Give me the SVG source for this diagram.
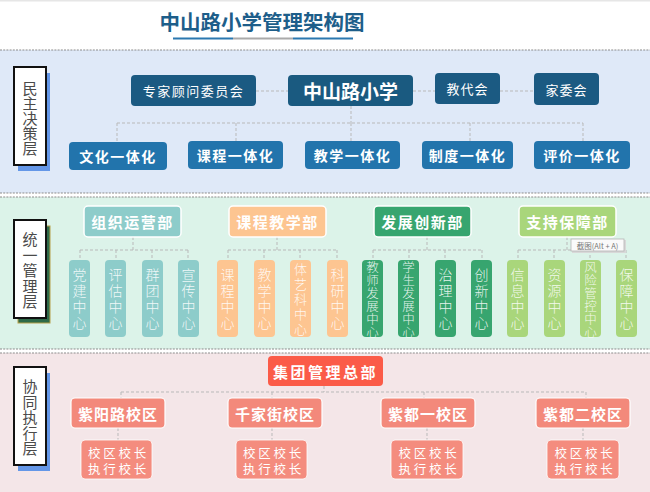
<svg xmlns="http://www.w3.org/2000/svg" width="650" height="492" viewBox="0 0 650 492">
<style>
.cjk{font-family:"Noto Sans CJK SC","Noto Sans",sans-serif}
.lbl{font-family:"Noto Sans CJK SC",sans-serif;font-size:15px;fill:#4a4a4a;font-weight:400}
.c{stroke:#b9b9b9;stroke-width:1;stroke-dasharray:3 2;fill:none}
.sep{stroke:#8c8c8c;stroke-width:1.2;stroke-dasharray:2 1.2}
.wt{fill:#fff;text-anchor:middle;dominant-baseline:central;font-family:"Noto Sans CJK SC","Noto Sans",sans-serif}
.b{font-weight:700}
.vt{fill:#fff;fill-opacity:0.88;font-weight:300;text-anchor:middle;dominant-baseline:central;font-family:"Noto Sans CJK SC",sans-serif}
</style>
<rect x="0" y="0" width="650" height="492" fill="#fff"/>
<rect x="0" y="0" width="650" height="1.5" fill="#e6e6e6"/>
<!-- bands -->
<rect x="0" y="50" width="650" height="143" fill="#dfe9f8"/>
<rect x="0" y="197" width="650" height="152" fill="#dcf3e9"/>
<rect x="0" y="353" width="650" height="139" fill="#f4e6e8"/>
<line class="sep" x1="0" y1="50" x2="650" y2="50"/>
<line class="sep" x1="0" y1="193" x2="650" y2="193"/>
<line class="sep" x1="0" y1="197" x2="650" y2="197"/>
<line class="sep" x1="0" y1="349" x2="650" y2="349"/>
<line class="sep" x1="0" y1="353" x2="650" y2="353"/>

<!-- title -->
<g id="title">
<text x="262" y="20.5" class="cjk b" font-size="20.5" fill="#1d5e8a" text-anchor="middle" dominant-baseline="central">中山路小学管理架构图</text>
<rect x="173" y="37.5" width="60" height="2" fill="#2b78b0"/>
<rect x="233" y="37.5" width="60" height="2" fill="#aaaaaa"/>
<rect x="293" y="37.5" width="60" height="2" fill="#2b78b0"/>
</g>

<!-- layer labels -->
<g id="layer1">
<rect x="18" y="73" width="32" height="98" fill="#6497e8"/>
<rect x="14" y="67" width="32" height="98" fill="#fff" stroke="#111" stroke-width="2"/>
<text class="lbl" text-anchor="middle" dominant-baseline="central"><tspan x="30" y="87">民</tspan><tspan x="30" y="102">主</tspan><tspan x="30" y="117">决</tspan><tspan x="30" y="132">策</tspan><tspan x="30" y="147">层</tspan></text>
</g>
<g id="layer2">
<rect x="18" y="226" width="32" height="97" fill="#2e6a48" stroke="#b5a04a" stroke-width="1"/>
<rect x="14" y="220" width="32" height="98" fill="#fff" stroke="#111" stroke-width="2"/>
<text class="lbl" text-anchor="middle" dominant-baseline="central"><tspan x="30" y="238">统</tspan><tspan x="30" y="253.5">一</tspan><tspan x="30" y="269">管</tspan><tspan x="30" y="284.5">理</tspan><tspan x="30" y="300">层</tspan></text>
</g>
<g id="layer3">
<rect x="18" y="373" width="32" height="98" fill="#6497e8"/>
<rect x="14" y="367" width="32" height="98" fill="#fff" stroke="#111" stroke-width="2"/>
<text class="lbl" text-anchor="middle" dominant-baseline="central"><tspan x="30" y="385">协</tspan><tspan x="30" y="400.5">同</tspan><tspan x="30" y="416">执</tspan><tspan x="30" y="431.5">行</tspan><tspan x="30" y="447">层</tspan></text>
</g>

<!-- connectors -->
<g id="connectors">
<path class="c" d="M256 91H288M413 91H435M500 91H534"/>
<path class="c" d="M351 106V123M117 123H583M117 123V141M236 123V141M351 123V141M470 123V141M583 123V141"/>
<path class="c" d="M133 237V250M80 250H188M80 250V260M116 250V260M152 250V260M188 250V260"/>
<path class="c" d="M277 237V250M228 250H337M228 250V260M264 250V260M300 250V260M337 250V260"/>
<path class="c" d="M427 237V250M373 250H482M373 250V260M409 250V260M445 250V260M482 250V260"/>
<path class="c" d="M567 237V250M518 250H626M518 250V260M554 250V260M590 250V260M626 250V260"/>
<path class="c" d="M324 386V392M121 392H586M121 392V398M272 392V398M424 392V398M586 392V398"/>
<path class="c" d="M118 428V440M272 428V440M427 428V440M583 428V440"/>
</g>

<!-- top layer -->
<g id="n-zhuanjia"><rect x="131" y="75" width="125" height="31" rx="4" fill="#1b5a82"/><text class="wt" x="193.5" y="90.5" font-size="13" letter-spacing="1.5">专家顾问委员会</text></g>
<g id="n-root"><rect x="288" y="75" width="125" height="31" rx="4" fill="#1a5a80"/><text class="wt b" x="350.5" y="90.5" font-size="19">中山路小学</text></g>
<g id="n-jiaodai"><rect x="435" y="73" width="65" height="31" rx="4" fill="#1b5a82"/><text class="wt" x="467.5" y="88.5" font-size="13" letter-spacing="1">教代会</text></g>
<g id="n-jiawei"><rect x="534" y="73" width="65" height="32" rx="4" fill="#1b5a82"/><text class="wt" x="566.5" y="89" font-size="13" letter-spacing="1">家委会</text></g>

<g id="n-wenhua"><rect x="69" y="142" width="98" height="28" rx="4" fill="#2274ac"/><text class="wt b" x="118" y="156" font-size="14" letter-spacing="1.5">文化一体化</text></g>
<g id="n-kecheng"><rect x="188" y="141" width="95" height="28" rx="4" fill="#2274ac"/><text class="wt b" x="235.5" y="155" font-size="14" letter-spacing="1.5">课程一体化</text></g>
<g id="n-jiaoxue"><rect x="305" y="141" width="95" height="28" rx="4" fill="#2274ac"/><text class="wt b" x="352.5" y="155" font-size="14" letter-spacing="1.5">教学一体化</text></g>
<g id="n-zhidu"><rect x="422" y="141" width="91" height="28" rx="4" fill="#2274ac"/><text class="wt b" x="467.5" y="155" font-size="14" letter-spacing="1.5">制度一体化</text></g>
<g id="n-pingjia"><rect x="534" y="141" width="96" height="28" rx="4" fill="#2274ac"/><text class="wt b" x="582" y="155" font-size="14" letter-spacing="1.5">评价一体化</text></g>

<!-- middle layer departments -->
<g id="d-zuzhi"><rect x="84" y="206" width="97" height="31" rx="4" fill="#8dccca" stroke="#fff" stroke-width="1.5"/><text class="wt b" x="132.5" y="221.5" font-size="15" letter-spacing="1.5">组织运营部</text></g>
<g id="d-kecheng"><rect x="229" y="206" width="97" height="31" rx="4" fill="#fdc591" stroke="#fff" stroke-width="1.5"/><text class="wt b" x="277.5" y="221.5" font-size="15" letter-spacing="1.5">课程教学部</text></g>
<g id="d-fazhan"><rect x="374" y="206" width="97" height="31" rx="4" fill="#37a56f" stroke="#fff" stroke-width="1.5"/><text class="wt b" x="422.5" y="221.5" font-size="15" letter-spacing="1.5">发展创新部</text></g>
<g id="d-zhichi"><rect x="519" y="206" width="97" height="31" rx="4" fill="#a9d67b" stroke="#fff" stroke-width="1.5"/><text class="wt b" x="567.5" y="221.5" font-size="15" letter-spacing="1.5">支持保障部</text></g>

<!-- centers -->
<g id="c-dangjian"><rect x="69" y="260" width="21" height="77" rx="4" fill="#8dccca"/><text class="vt" font-size="14"><tspan x="79.5" y="274">党</tspan><tspan x="79.5" y="290">建</tspan><tspan x="79.5" y="306">中</tspan><tspan x="79.5" y="322">心</tspan></text></g>
<g id="c-pinggu"><rect x="105" y="260" width="21" height="77" rx="4" fill="#8dccca"/><text class="vt" font-size="14"><tspan x="115.5" y="274">评</tspan><tspan x="115.5" y="290">估</tspan><tspan x="115.5" y="306">中</tspan><tspan x="115.5" y="322">心</tspan></text></g>
<g id="c-quntuan"><rect x="142" y="260" width="21" height="77" rx="4" fill="#8dccca"/><text class="vt" font-size="14"><tspan x="152.5" y="274">群</tspan><tspan x="152.5" y="290">团</tspan><tspan x="152.5" y="306">中</tspan><tspan x="152.5" y="322">心</tspan></text></g>
<g id="c-xuanchuan"><rect x="178" y="260" width="21" height="77" rx="4" fill="#8dccca"/><text class="vt" font-size="14"><tspan x="188.5" y="274">宣</tspan><tspan x="188.5" y="290">传</tspan><tspan x="188.5" y="306">中</tspan><tspan x="188.5" y="322">心</tspan></text></g>

<g id="c-kecheng"><rect x="217" y="260" width="21" height="77" rx="4" fill="#fdc591"/><text class="vt" font-size="14"><tspan x="227.5" y="274">课</tspan><tspan x="227.5" y="290">程</tspan><tspan x="227.5" y="306">中</tspan><tspan x="227.5" y="322">心</tspan></text></g>
<g id="c-jiaoxue"><rect x="254" y="260" width="21" height="77" rx="4" fill="#fdc591"/><text class="vt" font-size="14"><tspan x="264.5" y="274">教</tspan><tspan x="264.5" y="290">学</tspan><tspan x="264.5" y="306">中</tspan><tspan x="264.5" y="322">心</tspan></text></g>
<g id="c-tiyike"><rect x="290" y="260" width="21" height="77" rx="4" fill="#fdc591"/><text class="vt" font-size="13"><tspan x="300.5" y="268">体</tspan><tspan x="300.5" y="283">艺</tspan><tspan x="300.5" y="298">科</tspan><tspan x="300.5" y="313">中</tspan><tspan x="300.5" y="328">心</tspan></text></g>
<g id="c-keyan"><rect x="327" y="260" width="21" height="77" rx="4" fill="#fdc591"/><text class="vt" font-size="14"><tspan x="337.5" y="274">科</tspan><tspan x="337.5" y="290">研</tspan><tspan x="337.5" y="306">中</tspan><tspan x="337.5" y="322">心</tspan></text></g>

<g id="c-jiaoshi"><rect x="362" y="260" width="21" height="77" rx="4" fill="#37a56f"/><text class="vt" font-size="12.5"><tspan x="372.5" y="266">教</tspan><tspan x="372.5" y="279">师</tspan><tspan x="372.5" y="292">发</tspan><tspan x="372.5" y="305">展</tspan><tspan x="372.5" y="318">中</tspan><tspan x="372.5" y="331">心</tspan></text></g>
<g id="c-xuesheng"><rect x="398" y="260" width="21" height="77" rx="4" fill="#37a56f"/><text class="vt" font-size="12.5"><tspan x="408.5" y="266">学</tspan><tspan x="408.5" y="279">生</tspan><tspan x="408.5" y="292">发</tspan><tspan x="408.5" y="305">展</tspan><tspan x="408.5" y="318">中</tspan><tspan x="408.5" y="331">心</tspan></text></g>
<g id="c-zhili"><rect x="435" y="260" width="21" height="77" rx="4" fill="#37a56f"/><text class="vt" font-size="14"><tspan x="445.5" y="274">治</tspan><tspan x="445.5" y="290">理</tspan><tspan x="445.5" y="306">中</tspan><tspan x="445.5" y="322">心</tspan></text></g>
<g id="c-chuangxin"><rect x="471" y="260" width="21" height="77" rx="4" fill="#37a56f"/><text class="vt" font-size="14"><tspan x="481.5" y="274">创</tspan><tspan x="481.5" y="290">新</tspan><tspan x="481.5" y="306">中</tspan><tspan x="481.5" y="322">心</tspan></text></g>

<g id="c-xinxi"><rect x="507" y="260" width="21" height="77" rx="4" fill="#a9d67b"/><text class="vt" font-size="14"><tspan x="517.5" y="274">信</tspan><tspan x="517.5" y="290">息</tspan><tspan x="517.5" y="306">中</tspan><tspan x="517.5" y="322">心</tspan></text></g>
<g id="c-ziyuan"><rect x="544" y="260" width="21" height="77" rx="4" fill="#a9d67b"/><text class="vt" font-size="14"><tspan x="554.5" y="274">资</tspan><tspan x="554.5" y="290">源</tspan><tspan x="554.5" y="306">中</tspan><tspan x="554.5" y="322">心</tspan></text></g>
<g id="c-fengxian"><rect x="580" y="260" width="21" height="77" rx="4" fill="#a9d67b"/><text class="vt" font-size="12.5"><tspan x="590.5" y="266">风</tspan><tspan x="590.5" y="279">险</tspan><tspan x="590.5" y="292">管</tspan><tspan x="590.5" y="305">控</tspan><tspan x="590.5" y="318">中</tspan><tspan x="590.5" y="331">心</tspan></text></g>
<g id="c-baozhang"><rect x="616" y="260" width="21" height="77" rx="4" fill="#a9d67b"/><text class="vt" font-size="14"><tspan x="626.5" y="274">保</tspan><tspan x="626.5" y="290">障</tspan><tspan x="626.5" y="306">中</tspan><tspan x="626.5" y="322">心</tspan></text></g>

<!-- tooltip artifact -->
<g id="tooltip">
<rect x="572" y="240" width="54" height="13" fill="#d8d8d8"/>
<rect x="571" y="239" width="53" height="12" fill="#fafafa" stroke="#b5b5b5" stroke-width="0.8"/>
<text x="597.5" y="245.5" font-family="'Noto Sans CJK SC',sans-serif" font-size="7.5" fill="#777" text-anchor="middle" dominant-baseline="central">截图(Alt + A)</text>
</g>

<!-- bottom layer -->
<g id="b-jituan"><rect x="268" y="356" width="115" height="30" rx="4" fill="#fb5b48"/><text class="wt b" x="325.5" y="371" font-size="15" letter-spacing="2.5">集团管理总部</text></g>

<g id="b-ziyang"><rect x="71" y="398" width="94" height="30" rx="4" fill="#f3897b" stroke="#fff" stroke-width="1.2"/><text class="wt b" x="118" y="413" font-size="15" letter-spacing="1">紫阳路校区</text></g>
<g id="b-qianjia"><rect x="228" y="398" width="94" height="30" rx="4" fill="#f3897b" stroke="#fff" stroke-width="1.2"/><text class="wt b" x="275" y="413" font-size="15" letter-spacing="1">千家街校区</text></g>
<g id="b-zidu1"><rect x="381" y="398" width="94" height="30" rx="4" fill="#f3897b" stroke="#fff" stroke-width="1.2"/><text class="wt b" x="428" y="413" font-size="15" letter-spacing="1">紫都一校区</text></g>
<g id="b-zidu2"><rect x="536" y="398" width="94" height="30" rx="4" fill="#f3897b" stroke="#fff" stroke-width="1.2"/><text class="wt b" x="583" y="413" font-size="15" letter-spacing="1">紫都二校区</text></g>

<g id="s-ziyang"><rect x="81" y="440" width="71" height="39" rx="4" fill="#f48c7e" stroke="#fff" stroke-width="0.8"/><text class="wt" font-size="12.5" letter-spacing="2.8"><tspan x="118.5" y="452">校区校长</tspan><tspan x="118.5" y="468">执行校长</tspan></text></g>
<g id="s-qianjia"><rect x="236" y="440" width="71" height="39" rx="4" fill="#f48c7e" stroke="#fff" stroke-width="0.8"/><text class="wt" font-size="12.5" letter-spacing="2.8"><tspan x="273.5" y="452">校区校长</tspan><tspan x="273.5" y="468">执行校长</tspan></text></g>
<g id="s-zidu1"><rect x="391" y="440" width="72" height="39" rx="4" fill="#f48c7e" stroke="#fff" stroke-width="0.8"/><text class="wt" font-size="12.5" letter-spacing="2.8"><tspan x="429" y="452">校区校长</tspan><tspan x="429" y="468">执行校长</tspan></text></g>
<g id="s-zidu2"><rect x="547" y="440" width="72" height="39" rx="4" fill="#f48c7e" stroke="#fff" stroke-width="0.8"/><text class="wt" font-size="12.5" letter-spacing="2.8"><tspan x="585" y="452">校区校长</tspan><tspan x="585" y="468">执行校长</tspan></text></g>
</svg>
